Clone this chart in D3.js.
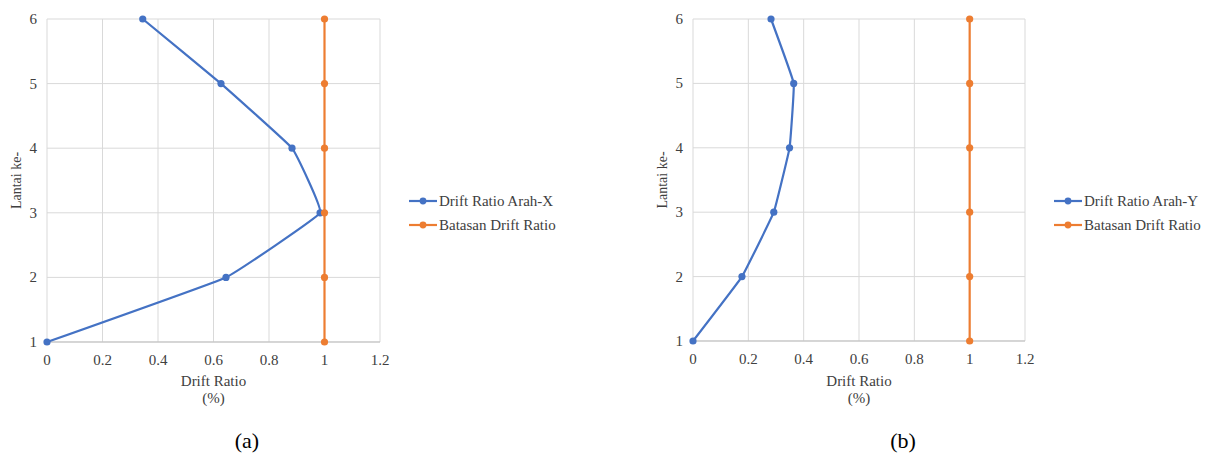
<!DOCTYPE html>
<html>
<head>
<meta charset="utf-8">
<script src="https://cdn.jsdelivr.net/npm/d3@7"></script>
<style>
  body { margin: 0; background: #fff; }
</style>
</head>
<body>
<div id="chart"></div>
<script>
// floors (Lantai ke-)
var floors = [1, 2, 3, 4, 5, 6];
// drift ratio values (%)
var driftX = [0, 0.645, 0.984, 0.883, 0.627, 0.345];
var driftY = [0, 0.177, 0.292, 0.349, 0.364, 0.282];
var limit = [1, 1, 1, 1, 1, 1];
var xTicks = [0, 0.2, 0.4, 0.6, 0.8, 1, 1.2];
var yTicks = [1, 2, 3, 4, 5, 6];

var W = 1208, H = 454;
var serif = "'Liberation Serif', 'DejaVu Serif', serif";
var svg = d3.select("#chart").append("svg")
    .attr("width", W)
    .attr("height", H)
    .attr("font-family", serif);

var blue = "#4472c4", orange = "#ed7d31", txt = "#404040";

function drawPanel(opts) {
  var x = d3.scaleLinear().domain([0, 1.2]).range([opts.left, opts.right]);
  var y = d3.scaleLinear().domain([1, 6]).range([opts.bottom, opts.top]);
  var g = svg.append("g");

  // gridlines
  g.selectAll(".vg").data(xTicks).enter().append("line")
    .attr("x1", function(d) { return x(d); })
    .attr("x2", function(d) { return x(d); })
    .attr("y1", y(1)).attr("y2", y(6))
    .attr("stroke", "#d9d9d9").attr("stroke-width", 1);
  g.selectAll(".hg").data(yTicks).enter().append("line")
    .attr("x1", x(0)).attr("x2", x(1.2))
    .attr("y1", function(d) { return y(d); })
    .attr("y2", function(d) { return y(d); })
    .attr("stroke", "#d9d9d9").attr("stroke-width", 1);
  // bottom axis line
  g.append("line")
    .attr("x1", x(0)).attr("x2", x(1.2))
    .attr("y1", y(1)).attr("y2", y(1))
    .attr("stroke", "#bfbfbf");

  // tick labels
  g.selectAll(".xt").data(xTicks).enter().append("text")
    .attr("x", function(d) { return x(d); })
    .attr("y", y(1) + 23)
    .attr("text-anchor", "middle")
    .attr("fill", txt)
    .style("font-family", serif)
    .style("font-size", "15px")
    .text(function(d) { return d; });
  g.selectAll(".yt").data(yTicks).enter().append("text")
    .attr("x", x(0) - 10)
    .attr("y", function(d) { return y(d) + 5; })
    .attr("text-anchor", "end")
    .attr("fill", txt)
    .style("font-family", serif)
    .style("font-size", "15px")
    .text(function(d) { return d; });

  // axis titles
  var cx = (opts.left + opts.right) / 2;
  g.append("text").attr("x", cx).attr("y", 386)
    .attr("text-anchor", "middle").attr("fill", txt)
    .style("font-family", serif).style("font-size", "15px").text("Drift Ratio");
  g.append("text").attr("x", cx).attr("y", 403)
    .attr("text-anchor", "middle").attr("fill", txt)
    .style("font-family", serif).style("font-size", "15px").text("(%)");
  g.append("text")
    .attr("transform", "translate(" + (opts.left - 26) + "," + ((y(1) + y(6)) / 2) + ") rotate(-90)")
    .attr("text-anchor", "middle").attr("fill", txt)
    .style("font-family", serif).style("font-size", "14px").text("Lantai ke-");

  // series (lightly smoothed lines, like Excel)
  var line = d3.line()
    .x(function(d) { return x(d[0]); })
    .y(function(d) { return y(d[1]); })
    .curve(d3.curveCardinal.tension(0.78));

  var series = [
    { name: opts.name, vals: opts.vals, color: blue },
    { name: "Batasan Drift Ratio", vals: limit, color: orange }
  ];
  series.forEach(function(s) {
    var pts = floors.map(function(f, i) { return [s.vals[i], f]; });
    g.append("path").datum(pts)
      .attr("d", line)
      .attr("fill", "none")
      .attr("stroke", s.color)
      .attr("stroke-width", 2.2);
    g.selectAll(null).data(pts).enter().append("circle")
      .attr("cx", function(d) { return x(d[0]); })
      .attr("cy", function(d) { return y(d[1]); })
      .attr("r", 3.6)
      .attr("fill", s.color);
  });

  // legend
  var lg = g.append("g").attr("transform", "translate(" + opts.legX + ",201)");
  series.forEach(function(s, i) {
    var row = lg.append("g").attr("transform", "translate(0," + (i * 24) + ")");
    row.append("line").attr("x1", 0).attr("x2", 28).attr("y1", 0).attr("y2", 0)
      .attr("stroke", s.color).attr("stroke-width", 2.2);
    row.append("circle").attr("cx", 14).attr("cy", 0).attr("r", 3.4).attr("fill", s.color);
    row.append("text").attr("x", 30).attr("y", 5).attr("fill", txt)
      .style("font-family", serif).style("font-size", "15px").text(s.name);
  });

  // caption
  svg.append("text").attr("x", opts.capX).attr("y", 448)
    .attr("text-anchor", "middle").attr("fill", "#000")
    .style("font-family", serif).style("font-size", "22px")
    .text(opts.cap);
}

drawPanel({ left: 47, right: 380, top: 19, bottom: 342, vals: driftX,
  name: "Drift Ratio Arah-X", legX: 409, capX: 247, cap: "(a)" });
drawPanel({ left: 693, right: 1025, top: 19, bottom: 341, vals: driftY,
  name: "Drift Ratio Arah-Y", legX: 1054, capX: 903, cap: "(b)" });
</script>
</body>
</html>
